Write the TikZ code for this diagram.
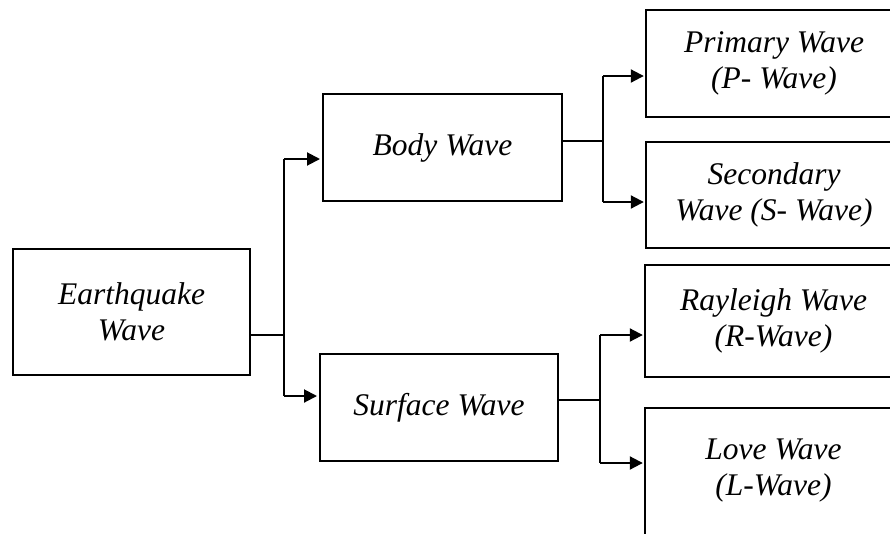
\documentclass[tikz,border=0pt]{standalone}
\usepackage{fontspec}
\setmainfont{Liberation Serif}
\usetikzlibrary{arrows.meta}
\begin{document}
\begin{tikzpicture}[x=1pt,y=-1pt,
  wbox/.style={draw=black,line width=2pt,rectangle,align=center,inner sep=0pt,
    font=\fontsize{31.5}{36}\selectfont\itshape},
  tbox/.style={rectangle,align=center,inner sep=0pt,
    font=\fontsize{31.5}{36}\selectfont\itshape},
  frame/.style={draw=black,line width=2pt},
  stub/.style={draw=black,line width=2.8pt},
  link/.style={draw=black,line width=2pt},
  arr/.style={draw=black,line width=2pt,-{Triangle[length=13pt,width=13pt]},shorten >=2pt}]
\useasboundingbox (0,0) rectangle (890,533);
\begin{scope}
\clip (0,0) rectangle (890,533);
\node[wbox,minimum width=237pt,minimum height=126pt] (eq) at (131.5,312) {Earthquake\\Wave};
\node[wbox,minimum width=239pt,minimum height=107pt] (body) at (442.5,147.5) {Body Wave};
\node[wbox,minimum width=238pt,minimum height=107pt] (surf) at (439,407.5) {Surface Wave};
\node[tbox,minimum width=256pt,minimum height=107pt] (prim) at (774,63.5) {Primary Wave\\(P- Wave)};
\node[tbox,minimum width=256pt,minimum height=106pt] (sec) at (774,195) {Secondary\\Wave (S- Wave)};
\node[tbox,minimum width=257pt,minimum height=112pt] (ray) at (773.5,321) {Rayleigh Wave\\(R-Wave)};
\node[tbox,minimum width=257pt,minimum height=126pt] (love) at (773.5,471) {Love Wave\\(L-Wave)};
\draw[frame] ([xshift=30pt]prim.north east) -- (prim.north west) -- (prim.south west) -- ([xshift=30pt]prim.south east);
\draw[frame] ([xshift=30pt]sec.north east) -- (sec.north west) -- (sec.south west) -- ([xshift=30pt]sec.south east);
\draw[frame] ([xshift=30pt]ray.north east) -- (ray.north west) -- (ray.south west) -- ([xshift=30pt]ray.south east);
\draw[frame] ([xshift=30pt]love.north east) -- (love.north west) -- (love.south west);
\end{scope}
% junctions
\coordinate (j1) at (284,335);
\coordinate (j1a) at (284,159);
\coordinate (j1b) at (284,396);
\coordinate (j2) at (603,141);
\coordinate (j2a) at (603,76);
\coordinate (j2b) at (603,202);
\coordinate (j3) at (600,400);
\coordinate (j3a) at (600,335);
\coordinate (j3b) at (600,463);
% stubs
\draw[stub] (eq.east |- j1) -- (j1);
\draw[stub] (body.east |- j2) -- (j2);
\draw[stub] (surf.east |- j3) -- (j3);
% branches
\draw[link] (j1a) -- (j1b);
\draw[arr] (j1a) -- (body.west |- j1a);
\draw[arr] (j1b) -- (surf.west |- j1b);
\draw[link] (j2a) -- (j2b);
\draw[arr] (j2a) -- (prim.west |- j2a);
\draw[arr] (j2b) -- (sec.west |- j2b);
\draw[link] (j3a) -- (j3b);
\draw[arr] (j3a) -- (ray.west |- j3a);
\draw[arr] (j3b) -- (love.west |- j3b);
\end{tikzpicture}
\end{document}
